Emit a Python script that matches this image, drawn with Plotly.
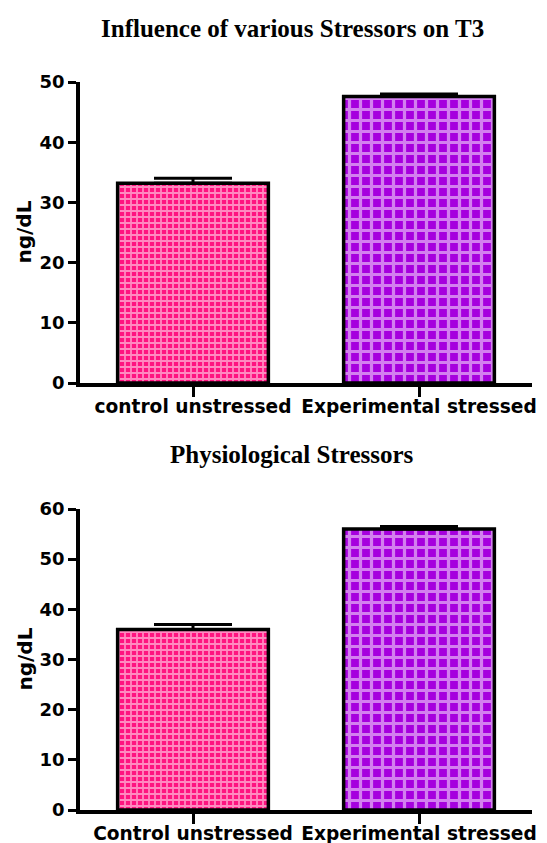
import plotly.graph_objects as go
from plotly.subplots import make_subplots

# T3 levels (ng/dL), mean and SEM per group
t3_groups = ["control unstressed", "Experimental stressed"]
t3_means = [33.2, 47.6]
t3_sem = [0.8, 0.4]

phys_groups = ["Control unstressed", "Experimental stressed"]
phys_means = [36.0, 56.0]
phys_sem = [1.0, 0.5]

titles = ["Influence of various Stressors on T3", "Physiological Stressors"]
y_label = "ng/dL"
y_ranges = [[0, 50], [0, 60]]

# checkered fills: darker squares under a lighter grid
fill_base = ["#FF1480", "#A600DE"]
fill_grid = ["#FF6EA8", "#C060D4"]
fill_size = [6, 11]

W, H = 547, 843
L, R = 80, 15
top_dom = [1 - 383 / H, 1 - 82 / H]
bot_dom = [1 - 810 / H, 1 - 509 / H]

fig = make_subplots(rows=2, cols=1)

sans = "DejaVu Sans"
serif = "Liberation Serif"

for row, (cats, means, sem) in enumerate(
    [(t3_groups, t3_means, t3_sem), (phys_groups, phys_means, phys_sem)], start=1
):
    fig.add_trace(
        go.Bar(
            x=cats,
            y=means,
            width=0.667,
            marker=dict(
                color=fill_base,
                line=dict(color="black", width=3.5),
                pattern=dict(
                    shape="+",
                    fgcolor=fill_grid,
                    size=fill_size,
                    solidity=0.5,
                    fillmode="overlay",
                ),
            ),
            error_y=dict(
                type="data",
                symmetric=False,
                array=sem,
                arrayminus=[0] * len(sem),
                color="black",
                thickness=3,
                width=39,
            ),
            showlegend=False,
        ),
        row=row,
        col=1,
    )

axis_common = dict(
    showline=True,
    linecolor="black",
    linewidth=3.5,
    ticks="outside",
    tickcolor="black",
    tickwidth=3,
    showgrid=False,
    zeroline=False,
    automargin=False,
)

for i, dom in enumerate([top_dom, bot_dom]):
    xa = "xaxis" if i == 0 else "xaxis2"
    ya = "yaxis" if i == 0 else "yaxis2"
    fig.layout[xa].update(
        **axis_common,
        ticklen=10,
        ticklabelstandoff=-6,
        range=[-0.5, 1.5],
        domain=[0, 1],
        tickfont=dict(family=sans, size=18.6, color="black", weight="bold"),
    )
    fig.layout[ya].update(
        **axis_common,
        ticklen=8,
        range=y_ranges[i],
        dtick=10,
        domain=dom,
        tickfont=dict(family=sans, size=18, color="black", weight="bold"),
    )

annotations = []
# panel titles
for text, yc in zip(titles, [28, 454]):
    annotations.append(
        dict(
            text=text,
            xref="paper",
            yref="paper",
            x=(292 - L) / (W - L - R),
            y=1 - yc / H,
            xanchor="center",
            yanchor="middle",
            showarrow=False,
            font=dict(family=serif, size=25, color="black", weight="bold"),
        )
    )
# y-axis labels
for dom in [top_dom, bot_dom]:
    annotations.append(
        dict(
            text=y_label,
            xref="paper",
            yref="paper",
            x=(24 - L) / (W - L - R),
            y=(dom[0] + dom[1]) / 2,
            xanchor="center",
            yanchor="middle",
            textangle=-90,
            showarrow=False,
            font=dict(family=sans, size=20, color="black", weight="bold"),
        )
    )

fig.update_layout(
    width=W,
    height=H,
    margin=dict(l=L, r=R, t=0, b=0),
    paper_bgcolor="white",
    plot_bgcolor="white",
    annotations=annotations,
)

fig.write_html("out.html")
